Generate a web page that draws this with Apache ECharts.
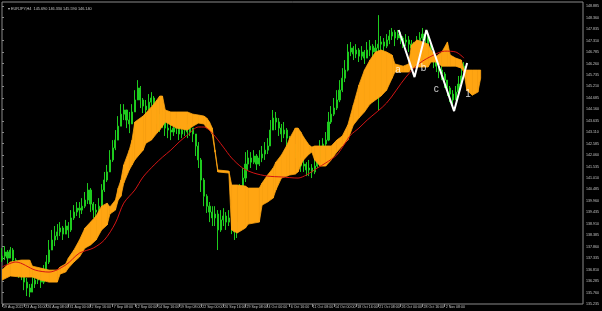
<!DOCTYPE html>
<html><head><meta charset="utf-8">
<script src="https://cdn.jsdelivr.net/npm/echarts@6/dist/echarts.min.js"></script>
<style>html,body{margin:0;padding:0;background:#000;}#c{width:602px;height:311px;}</style>
</head><body><div id="c"></div>
<script>
const symbolName = 'EURJPY,H4';
const timeLabelBars = [0,8,16,24,32,40,48,56,64,72,80,88,96,104,112,120,128,136,144,152,160];
const timeLabels = ['19 Aug 2022','23 Aug 16:00','26 Aug 08:00','31 Aug 00:00','2 Sep 16:00','7 Sep 08:00','12 Sep 00:00','14 Sep 16:00','19 Sep 08:00','22 Sep 00:00','26 Sep 16:00','29 Sep 08:00','4 Oct 00:00','6 Oct 16:00','11 Oct 08:00','14 Oct 00:00','18 Oct 16:00','21 Oct 08:00','26 Oct 00:00','28 Oct 16:00','2 Nov 08:00'];
const priceTicks = ['135.235','135.760','136.285','136.810','137.335','137.860','138.385','138.910','139.435','139.960','140.485','141.010','141.535','142.060','142.585','143.110','143.635','144.160','144.685','145.210','145.735','146.260','146.785','147.310','147.835','148.360','148.885'];

const firstOpen = 137.25;
const closes = [137.43,137.62,137.34,137.71,137.25,136.97,136.70,136.79,136.24,135.97,
135.78,136.15,136.33,136.52,136.24,136.70,137.16,137.71,138.17,138.35,
138.54,138.72,138.44,138.81,138.63,139.18,139.45,139.63,139.54,139.72,
140.00,140.46,139.82,139.54,139.45,139.72,140.46,140.92,141.29,141.84,
142.39,142.75,143.39,143.94,144.13,143.67,143.49,144.04,144.59,145.14,
144.59,144.31,144.13,144.49,144.68,144.31,143.85,143.49,143.67,143.30,
143.21,143.12,143.30,143.39,143.03,143.21,143.30,143.12,143.30,143.03,
142.48,141.84,140.92,140.18,139.72,139.45,139.18,139.36,138.63,139.09,
139.27,138.99,139.18,138.81,138.54,138.99,140.18,141.01,141.65,141.93,
141.74,142.02,141.65,141.93,142.11,142.29,142.48,143.21,143.76,143.58,
143.30,143.03,143.21,142.84,142.57,142.39,142.20,141.84,141.56,141.65,
141.38,141.47,141.29,141.56,141.84,142.39,142.57,142.75,143.58,143.94,
144.22,144.59,145.04,145.59,145.96,146.79,146.97,146.70,146.88,146.60,
146.79,146.51,146.88,147.06,146.79,146.97,147.15,147.25,147.06,147.34,
147.52,147.70,147.43,147.61,147.43,147.25,147.34,147.15,146.97,146.79,
147.15,147.43,147.61,147.52,147.06,146.70,146.42,146.14,145.96,145.78,
145.50,145.14,144.86,144.59,144.95,145.32,145.69,146.14];
const highs = [137.80,137.89,137.71,137.85,137.80,137.34,137.07,137.02,136.79,136.43,
136.15,136.52,136.70,136.88,136.70,137.02,137.48,138.17,138.63,138.81,
138.90,138.99,138.81,139.09,138.99,139.54,139.77,139.91,139.91,140.09,
140.37,140.78,140.55,139.91,139.82,140.09,140.73,141.29,141.61,142.29,
142.75,143.21,143.85,144.40,144.40,144.13,144.04,144.40,145.04,145.50,
145.23,144.68,144.59,144.86,144.95,144.77,144.40,143.94,144.04,143.76,
143.67,143.67,143.76,143.76,143.49,143.58,143.67,143.49,143.67,143.30,
143.03,142.66,141.93,141.01,140.27,139.91,139.72,139.72,139.54,139.54,
139.63,139.45,139.54,139.36,138.99,139.45,140.73,141.47,142.20,142.29,
142.20,142.29,142.11,142.29,142.48,142.66,142.84,143.67,144.13,144.04,
143.76,143.49,143.58,143.30,142.94,142.75,142.57,142.20,141.93,142.02,
141.74,141.84,141.65,141.93,142.39,142.75,142.84,143.12,144.04,144.31,
144.68,145.04,145.50,146.05,146.42,147.15,147.25,147.06,147.15,146.97,
147.06,146.88,147.25,147.34,147.15,147.34,148.48,147.52,147.43,147.61,
147.80,147.89,147.80,147.80,147.70,147.52,147.61,147.52,147.34,147.25,
147.52,147.70,147.89,147.80,147.61,147.15,146.88,146.51,146.33,146.14,
145.87,145.50,145.23,145.04,145.23,145.69,146.05,146.33];
const lows = [137.16,137.25,137.07,137.34,136.97,136.70,136.43,136.33,135.87,135.60,
135.55,135.78,135.97,136.15,135.97,136.15,136.70,137.07,137.71,137.89,
138.17,138.35,138.17,138.44,138.26,138.54,139.09,139.27,139.18,139.36,
139.63,139.82,139.45,139.18,139.09,139.36,139.63,140.37,140.83,141.29,
141.75,142.29,142.75,143.39,143.67,143.30,143.07,143.49,144.04,144.59,
144.22,143.99,143.85,144.13,144.31,143.94,143.49,143.12,143.30,142.94,
142.84,142.75,142.94,143.03,142.75,142.84,142.94,142.84,142.94,142.66,
142.02,141.47,140.37,139.72,139.41,138.99,138.81,138.81,137.71,138.54,
138.81,138.63,138.81,138.44,138.17,138.26,138.99,140.00,140.83,141.38,
141.47,141.65,141.38,141.56,141.74,141.84,142.11,142.48,143.21,143.21,
142.94,142.66,142.84,142.48,142.29,142.07,141.93,141.47,141.29,141.29,
141.10,141.10,141.01,141.19,141.47,141.75,142.29,142.39,142.70,143.49,
143.85,144.13,144.49,144.95,145.41,145.90,146.60,146.42,146.51,146.33,
146.42,146.24,146.51,146.60,146.51,146.60,144.13,146.88,146.79,146.97,
147.15,147.34,147.06,147.34,147.15,146.97,147.06,146.79,146.60,146.42,
146.79,147.06,147.34,147.15,146.79,146.33,146.05,145.87,145.59,145.50,
145.14,144.77,144.49,144.40,144.59,144.86,145.23,145.59];

const cloudBars = [0,3,7,10,11,14,17,20,21,23,24,26,28,30,32,34,36,38,39,41,42,43,44,46,47,48,51,52,54,56,57,58,59,61,63,67,69,71,73,74,75,76,77,78,82,83,85,88,89,93,94,96,98,99,101,103,104,106,107,108,109,111,112,113,115,117,119,121,123,125,127,129,131,133,135,137,139,141,142,145,147,148,150,152,154,155,157,159,161,162,164,166,167,168,170,172,173];
const cloudTop = [136.79,137.16,137.25,137.25,136.97,136.88,136.79,136.79,136.93,137.07,
137.34,137.71,138.17,138.72,138.99,139.27,139.72,139.86,139.68,140.00,
140.55,140.92,141.61,142.29,142.75,143.58,143.85,143.99,144.27,144.59,
144.77,144.77,144.13,144.04,144.04,144.04,143.94,143.90,143.85,143.76,
143.58,143.30,142.29,141.38,141.33,140.69,140.69,140.64,140.55,140.55,
140.78,141.15,141.47,141.74,142.07,142.52,142.84,143.30,143.30,143.12,
142.89,142.52,142.43,142.48,142.48,142.48,142.48,142.75,142.94,143.44,
144.36,145.27,145.96,146.42,146.79,146.88,146.79,146.65,146.24,146.14,
146.24,147.11,147.34,147.25,147.15,146.88,146.60,146.79,147.25,146.65,
146.51,146.42,145.96,145.96,145.96,145.96,145.96];
const cloudBottom = [136.33,136.52,136.47,136.47,136.47,136.33,136.24,136.24,136.61,136.70,
136.88,137.16,137.39,137.80,137.94,138.17,138.63,138.86,139.36,139.54,
140.00,140.18,140.78,141.38,141.61,141.84,142.29,142.61,142.75,143.07,
143.21,143.39,143.58,143.44,143.30,143.21,143.39,143.53,143.49,143.30,
143.21,143.03,142.20,141.29,141.24,138.63,138.49,138.72,138.90,138.99,
139.77,139.91,140.09,140.46,141.01,141.10,141.15,141.19,141.29,141.61,
141.84,142.11,142.20,141.84,141.56,141.56,141.84,142.20,142.48,142.75,
143.44,143.76,144.04,144.40,144.59,144.77,145.04,145.59,145.87,145.87,
145.87,146.05,146.10,146.10,146.10,146.33,146.33,146.14,146.14,146.14,
146.14,146.05,145.87,145.04,144.81,144.95,145.59];

const maBars = [0,5,12,17,23,28,33,37,41,44,48,51,55,58,61,64,67,71,73,76,80,83,87,91,96,101,107,110,114,117,121,124,126,129,132,139,146,151,156,160,164,167];
const maValues = [136.93,137.16,136.79,136.70,137.02,137.57,137.80,138.17,138.95,139.86,
140.46,141.06,141.61,141.97,142.29,142.66,142.98,143.35,143.35,143.07,
142.43,141.93,141.47,141.24,141.10,141.06,141.01,141.15,141.47,141.70,
142.07,142.61,142.98,143.30,143.67,144.45,145.64,146.28,146.65,146.83,
146.79,146.51];

const waveBars = [143.4,149.1,153.4,163.4,168.1];
const waveValues = [147.80,145.64,147.80,144.08,146.28];
const waveLabelNames = ['a','b','c','1'];
const waveLabelBars = [143.1,152.4,157.0,168.4];
const waveLabelValues = [145.96,146.05,145.09,144.86];

const GREEN = '#1ecb1e', ORANGE = '#ffa512', RED = '#d41414', FRAME = '#8a8a8a', TXT = '#c4c4c4';
const last = closes.length - 1;
const opens = closes.map((c, i) => i === 0 ? firstOpen : closes[i - 1]);
const candleData = closes.map((c, i) => [i, opens[i], c, lows[i], highs[i]]);
const cloudSegs = [];
for (let j = 0; j < cloudBars.length - 1; j++) {
  cloudSegs.push([cloudBars[j], cloudTop[j], cloudBottom[j], cloudBars[j+1], cloudTop[j+1], cloudBottom[j+1]]);
}
const priceTickValues = priceTicks.map(Number);

const chart = echarts.init(document.getElementById('c'));
chart.setOption({
  backgroundColor: '#000',
  animation: false,
  title: {
    text: '\u25BE ' + symbolName + '  ' + [opens[last], highs[last], lows[last], closes[last]].map(v => v.toFixed(3)).join(' '),
    left: 3, top: 2,
    textStyle: { color: TXT, fontSize: 3.8, fontWeight: 'normal', fontFamily: 'Liberation Sans, Arial, sans-serif' }
  },
  grid: { left: 0, right: 14, top: 2, bottom: 7, show: true, borderColor: FRAME, borderWidth: 1, backgroundColor: 'transparent' },
  xAxis: {
    type: 'value', min: 0, max: 210,
    splitLine: { show: false }, axisLine: { show: false },
    axisTick: { show: true, customValues: timeLabelBars, length: 3, lineStyle: { color: FRAME, width: 1 } },
    axisLabel: {
      customValues: timeLabelBars,
      formatter: v => { const k = timeLabelBars.indexOf(v); return k >= 0 ? timeLabels[k] : ''; },
      align: 'left', fontSize: 3.6, color: TXT, margin: 1, padding: [0, 0, 0, 1],
      fontFamily: 'Liberation Sans, Arial, sans-serif'
    }
  },
  yAxis: {
    type: 'value', position: 'right', min: 135.235, max: 149.082, scale: true,
    splitLine: { show: false }, axisLine: { show: false },
    axisTick: { show: true, customValues: priceTickValues, length: 2, lineStyle: { color: FRAME } },
    axisLabel: {
      customValues: priceTickValues,
      formatter: v => v.toFixed(3),
      fontSize: 3.6, color: TXT, margin: 3,
      fontFamily: 'Liberation Sans, Arial, sans-serif'
    }
  },
  series: [
    {
      type: 'candlestick', z: 2, barWidth: 1.6, clip: true,
      encode: { x: 0, y: [1, 2, 3, 4] },
      data: candleData,
      itemStyle: { color: GREEN, color0: GREEN, borderColor: GREEN, borderColor0: GREEN, borderWidth: 1 },
      markLine: {
        silent: true, symbol: 'none', animation: false,
        lineStyle: { opacity: 0 },
        label: {
          position: 'end', distance: 1,
          formatter: p => p.value.toFixed(3),
          backgroundColor: '#d6d6d6', color: '#000', fontSize: 3.6, padding: [1, 1],
          fontFamily: 'Liberation Sans, Arial, sans-serif'
        },
        data: [{ yAxis: closes[last] }]
      }
    },
    {
      type: 'custom', z: 3, clip: true,
      encode: { x: [0, 3], y: [1, 2, 4, 5] },
      data: cloudSegs,
      renderItem: (params, api) => {
        const a = api.coord([api.value(0), api.value(1)]);
        const b = api.coord([api.value(3), api.value(4)]);
        const c = api.coord([api.value(3), api.value(5)]);
        const d = api.coord([api.value(0), api.value(2)]);
        return { type: 'polygon', shape: { points: [a, b, c, d] }, style: { fill: ORANGE, stroke: ORANGE, lineWidth: 0.8 } };
      }
    },
    {
      type: 'line', z: 4, smooth: 0.3, showSymbol: false, symbol: 'none',
      data: maBars.map((b, i) => [b, maValues[i]]),
      lineStyle: { color: RED, width: 1 }
    },
    {
      type: 'line', z: 5, showSymbol: false, symbol: 'none',
      data: waveBars.map((b, i) => [b, waveValues[i]]),
      lineStyle: { color: '#ffffff', width: 2 }
    },
    {
      type: 'scatter', z: 6, symbolSize: 1,
      itemStyle: { color: 'rgba(0,0,0,0)' },
      data: waveLabelBars.map((b, i) => [b, waveLabelValues[i]]),
      label: {
        show: true, position: 'inside', color: '#ffffff', fontSize: 10,
        fontFamily: 'Liberation Sans, Arial, sans-serif',
        formatter: p => waveLabelNames[p.dataIndex]
      }
    }
  ]
});
</script>
</body></html>
